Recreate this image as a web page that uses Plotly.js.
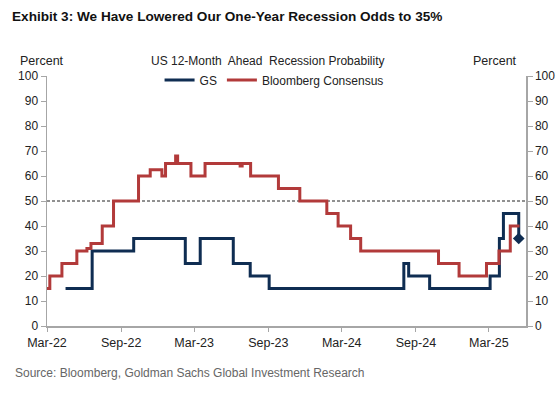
<!DOCTYPE html>
<html>
<head>
<meta charset="utf-8">
<script src="https://cdn.plot.ly/plotly-3.0.1.min.js"></script>
<style>
html,body{margin:0;padding:0;background:#fff;}
#chart{width:558px;height:396px;}
</style>
</head>
<body>
<div id="chart"></div>
<script>
// GS recession probability (step changes)
const gsDates = ['2022-04-16','2022-06-21','2022-10-02','2023-02-07','2023-03-16','2023-06-06','2023-07-18','2023-09-03','2024-08-02','2024-08-14','2024-10-05','2025-03-04','2025-03-27','2025-04-06','2025-05-14'];
const gsValues = [15,30,35,25,35,25,20,15,25,20,15,20,35,45,35];

// Bloomberg consensus (step changes)
const bbgDates = ['2022-03-01','2022-03-08','2022-04-07','2022-05-14','2022-06-08','2022-06-18','2022-07-16','2022-08-13','2022-10-14','2022-11-12','2022-12-11','2022-12-20','2023-01-14','2023-01-19','2023-02-21','2023-03-28','2023-06-23','2023-06-28','2023-07-19','2023-09-26','2023-11-18','2024-01-24','2024-02-21','2024-03-23','2024-04-17','2024-10-27','2024-12-17','2025-02-23','2025-03-26','2025-04-23','2025-05-16'];
const bbgValues = [15,20,25,30,31,33,40,50,60,62.5,60,65,68,65,60,65,64,65,60,55,50,45,40,35,30,25,20,25,30,40,40];

const xTickVals = ['2022-03-01','2022-09-01','2023-03-01','2023-09-01','2024-03-01','2024-09-01','2025-03-01'];
const xTickText = ['Mar-22','Sep-22','Mar-23','Sep-23','Mar-24','Sep-24','Mar-25'];
const yTickVals = [0,10,20,30,40,50,60,70,80,90,100];
const thresholdValue = 50;

const GS_COLOR = '#0f2d52';
const BBG_COLOR = '#b23a3a';
const FONT = 'Liberation Sans, Arial, sans-serif';

const traces = [
  {
    x: gsDates, y: gsValues, name: 'GS', type: 'scatter', mode: 'lines',
    line: {shape: 'hv', color: GS_COLOR, width: 3}
  },
  {
    x: bbgDates, y: bbgValues, name: 'Bloomberg Consensus', type: 'scatter', mode: 'lines',
    line: {shape: 'hv', color: BBG_COLOR, width: 3}
  },
  {
    x: [gsDates[gsDates.length-1]], y: [gsValues[gsValues.length-1]], type: 'scatter', mode: 'markers',
    marker: {symbol: 'diamond', size: 9, color: GS_COLOR}, showlegend: false, hoverinfo: 'skip'
  },
  {
    x: [gsDates[0]], y: [null], yaxis: 'y2', type: 'scatter', mode: 'lines', showlegend: false, hoverinfo: 'skip'
  }
];

const axisCommon = {
  range: [0, 100], tickvals: yTickVals, showgrid: false, zeroline: false,
  showline: true, linecolor: '#a6a6a6', linewidth: 1.5,
  ticks: 'outside', ticklen: 5, tickcolor: '#a6a6a6', tickwidth: 1,
  tickfont: {family: FONT, size: 12, color: '#222'}, fixedrange: true
};

const layout = {
  width: 558, height: 396,
  margin: {l: 46.5, r: 32.3, t: 76, b: 70},
  paper_bgcolor: '#fff', plot_bgcolor: '#fff',
  showlegend: true,
  legend: {
    orientation: 'h', x: 0.235, xanchor: 'left', y: (326-80)/250, yanchor: 'middle',
    font: {family: FONT, size: 12, color: '#222'}, bgcolor: 'rgba(0,0,0,0)',
    itemwidth: 30, tracegroupgap: 0
  },
  title: {
    text: '<b>Exhibit 3: We Have Lowered Our One-Year Recession Odds to 35%</b>',
    font: {family: 'Liberation Sans, Arial, sans-serif', size: 13.6, color: '#111'},
    x: 12/558, xanchor: 'left', xref: 'container', yref: 'container', y: 1 - 16/396, yanchor: 'middle'
  },
  xaxis: {
    type: 'date', range: ['2022-03-01', '2025-06-01'],
    tickvals: xTickVals, ticktext: xTickText,
    showgrid: false, zeroline: false, showline: true, linecolor: '#a6a6a6', linewidth: 1.5,
    ticks: 'outside', ticklen: 4, tickcolor: '#a6a6a6',
    tickfont: {family: FONT, size: 12.5, color: '#222'}, fixedrange: true
  },
  yaxis: Object.assign({}, axisCommon, {side: 'left'}),
  yaxis2: Object.assign({}, axisCommon, {side: 'right', overlaying: 'y'}),
  shapes: [
    {type: 'line', xref: 'paper', x0: 0, x1: 1, yref: 'y', y0: thresholdValue, y1: thresholdValue,
     line: {color: '#222', width: 1, dash: '3px,2px'}, layer: 'below'}
  ],
  annotations: [
    {text: 'Percent', xref: 'paper', yref: 'paper', x: (41-46.5)/479.2, y: (326-61)/250,
     xanchor: 'center', yanchor: 'middle', showarrow: false, font: {family: FONT, size: 12.5, color: '#222'}},
    {text: 'Percent', xref: 'paper', yref: 'paper', x: (495-46.5)/479.2, y: (326-61)/250,
     xanchor: 'center', yanchor: 'middle', showarrow: false, font: {family: FONT, size: 12.5, color: '#222'}},
    {text: 'US 12-Month  Ahead  Recession Probability', xref: 'paper', yref: 'paper', x: (267.5-46.5)/479.2, y: (326-61)/250,
     xanchor: 'center', yanchor: 'middle', showarrow: false, font: {family: FONT, size: 12, color: '#222'}},
    {text: 'Source: Bloomberg, Goldman Sachs Global Investment Research', xref: 'paper', yref: 'paper',
     x: (12-46.5)/479.2, y: (326-373)/250, xanchor: 'left', yanchor: 'middle', showarrow: false,
     font: {family: FONT, size: 12, color: '#666'}}
  ]
};

Plotly.newPlot('chart', traces, layout, {staticPlot: true, displayModeBar: false});
</script>
</body>
</html>
